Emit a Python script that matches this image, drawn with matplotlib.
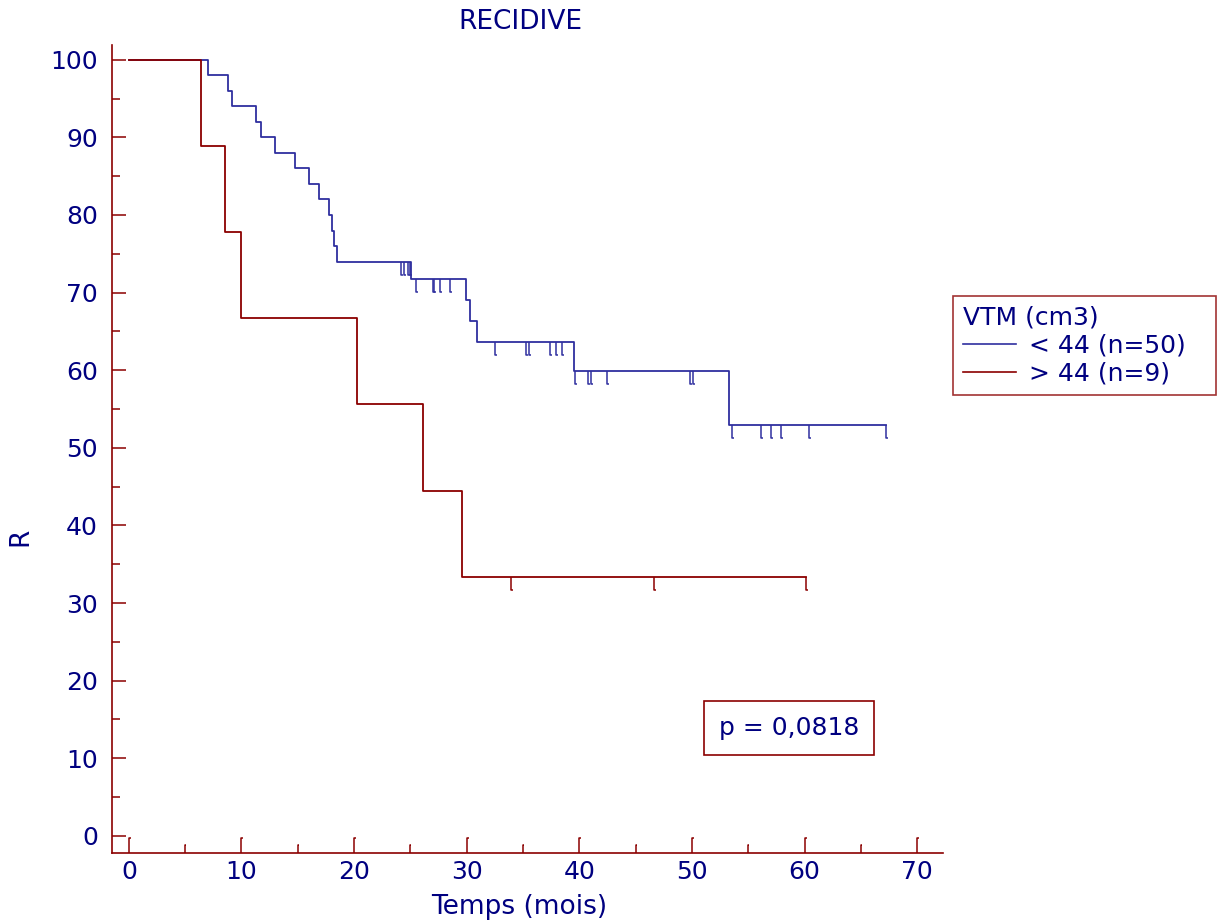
import numpy as np
import matplotlib.pyplot as plt
from matplotlib.path import Path
from matplotlib.lines import Line2D

# Kaplan-Meier steps (time in months, survival in %)
blue_times = [0, 7.0, 8.8, 9.2, 11.25, 11.7, 13.0, 14.75, 16.0, 16.9, 17.8,
              18.05, 18.2, 18.5, 25.05, 29.95, 30.3, 30.9, 39.5, 53.3]
blue_surv = [100, 98, 96, 94, 92, 90, 88, 86, 84, 82, 80,
             78, 76, 74, 71.8, 69.1, 66.4, 63.6, 59.9, 52.9]
blue_end = 67.2
blue_censor = [24.2, 24.4, 24.8, 24.95, 25.5, 27.0, 27.1, 27.6, 28.5,
               32.5, 35.3, 35.5, 37.4, 37.9, 38.5, 39.6, 40.8, 41.0, 42.5,
               49.8, 50.1, 53.6, 56.1, 57.0, 57.9, 60.4, 67.2]

red_times = [0, 6.4, 8.55, 9.95, 20.3, 26.1, 29.6]
red_surv = [100, 88.9, 77.8, 66.7, 55.6, 44.4, 33.3]
red_end = 60.1
red_censor = [33.9, 46.6, 60.1]

labels = ["< 44 (n=50)", "> 44 (n=9)"]
legend_title = "VTM (cm3)"
p_text = "p = 0,0818"
x_major = np.arange(0, 71, 10)
x_minor = np.arange(5, 70, 10)

BLUE = "#2f2f9f"
RED = "#8b0000"
NAVY = "#000080"
FS = 18
FS_LAB = 19

# censor mark: drop down, small hook to the right
censor_mark = Path([(0, 0), (0, -1), (0.15, -1)],
                   [Path.MOVETO, Path.LINETO, Path.LINETO])
# x tick: rises from the axis, small hook to the right at the top
tick_mark = Path([(0, 0), (0, 1), (0.12, 1)],
                 [Path.MOVETO, Path.LINETO, Path.LINETO])


def draw_curve(ax, times, surv, end, censor, color):
    t = list(times) + [end]
    s = list(surv) + [surv[-1]]
    ax.step(t, s, where="post", color=color, lw=1.3)
    idx = np.searchsorted(times, censor, side="right") - 1
    cy = np.array(surv)[idx]
    ax.plot(censor, cy, linestyle="none", marker=censor_mark, ms=19,
            mec=color, mfc="none", mew=1.1)


fig = plt.figure(figsize=(12.17, 9.22), dpi=100)
ax = fig.add_axes([112 / 1217, 1 - 853 / 922, (943 - 112) / 1217, (853 - 45) / 922])

draw_curve(ax, blue_times, blue_surv, blue_end, blue_censor, BLUE)
draw_curve(ax, red_times, red_surv, red_end, red_censor, RED)

ax.set_xlim(-1.5, 72.3)
ax.set_ylim(-2.2, 101.9)
ax.set_xticks(x_major)
ax.set_yticks(np.arange(0, 101, 10))
ax.set_yticks(np.arange(5, 100, 10), minor=True)

# hooked x ticks drawn as markers sitting on the bottom axis
xt = ax.get_xaxis_transform()
ax.plot(x_major, np.zeros(len(x_major)), transform=xt, linestyle="none",
        marker=tick_mark, ms=22, mec=RED, mfc="none", mew=1.1, clip_on=False)
ax.plot(x_minor, np.zeros(len(x_minor)), transform=xt, linestyle="none",
        marker=tick_mark, ms=12, mec=RED, mfc="none", mew=1.1, clip_on=False)

for side in ["top", "right"]:
    ax.spines[side].set_visible(False)
for side in ["left", "bottom"]:
    ax.spines[side].set_color(RED)
    ax.spines[side].set_linewidth(1.2)

ax.tick_params(which="both", direction="in", color=RED, labelcolor=NAVY,
               labelsize=FS, width=1.1)
ax.tick_params(axis="y", which="major", length=10)
ax.tick_params(axis="y", which="minor", length=5.5)
ax.tick_params(axis="x", length=0, pad=5)
ax.tick_params(axis="y", pad=10)

fig.text(520 / 1217, 1 - 22 / 922, "RECIDIVE", color=NAVY, fontsize=FS_LAB,
         ha="center", va="center")
fig.text(519 / 1217, 1 - 907 / 922, "Temps (mois)", color=NAVY, fontsize=FS_LAB,
         ha="center", va="center")
fig.text(20 / 1217, 1 - 537 / 922, "R", color=NAVY, fontsize=FS_LAB,
         ha="center", va="center", rotation=90)

handles = [Line2D([], [], color=BLUE, lw=1.2), Line2D([], [], color=RED, lw=1.2)]
leg = fig.legend(handles, labels, title=legend_title, loc="upper left",
                 bbox_to_anchor=(953 / 1217, 1 - 396 / 922, 263 / 1217, 100 / 922),
                 mode="expand", borderaxespad=0,
                 fontsize=FS, title_fontsize=FS, frameon=True, fancybox=False,
                 handlelength=2.1, handletextpad=0.55, borderpad=0.4,
                 labelspacing=0.15, alignment="left", labelcolor=NAVY)
leg.get_title().set_color(NAVY)
leg.get_frame().set_edgecolor(RED)
leg.get_frame().set_linewidth(1.2)

fig.text(789 / 1217, 1 - 728 / 922, p_text, color=NAVY, fontsize=FS,
         ha="center", va="center",
         bbox=dict(boxstyle="square,pad=0.6", fc="white", ec=RED, lw=1.2))

fig.savefig("out.png", dpi=100)
